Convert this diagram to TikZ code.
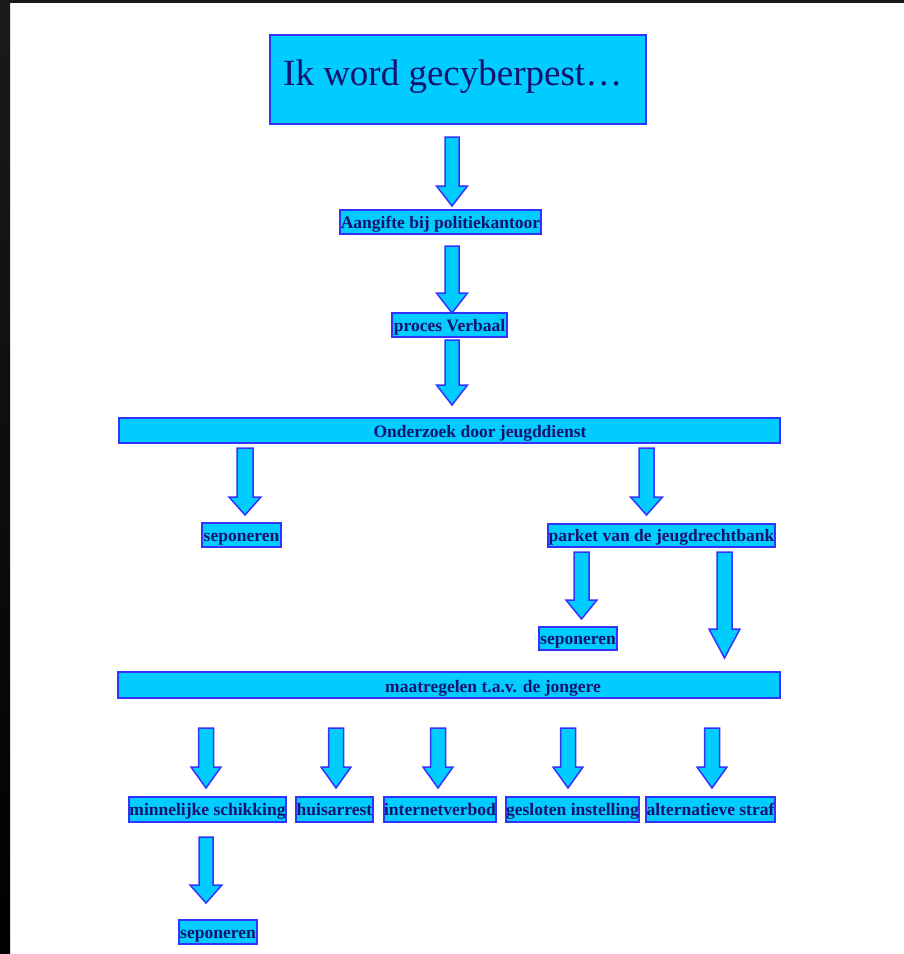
\documentclass[tikz,border=0pt]{standalone}
\usepackage{fontspec}
\setmainfont{Liberation Serif}
\definecolor{boxfill}{RGB}{0,204,255}
\definecolor{boxline}{RGB}{51,51,255}
\definecolor{txt}{RGB}{20,20,110}
\definecolor{frametop}{RGB}{26,26,26}
\newcommand\barrow[6]{% cx, shaft half, head half, top, headstart, tip
  \draw[blockarrow] (#1-#2,#4) -- (#1+#2,#4) -- (#1+#2,#5) -- (#1+#3,#5) -- (#1,#6) -- (#1-#3,#5) -- (#1-#2,#5) -- cycle;}
\begin{document}
\begin{tikzpicture}[x=1pt,y=-1pt,
  box/.style={draw=boxline, fill=boxfill, line width=1.5pt, inner sep=0pt, text=txt,
    text height=13pt, text depth=1pt,
    font=\fontsize{17.5}{17.5}\selectfont\bfseries},
  label/.style={inner sep=0pt, text=txt, text height=13pt, text depth=1pt,
    font=\fontsize{17.5}{17.5}\selectfont\bfseries},
  blockarrow/.style={draw=boxline, fill=boxfill, line width=1.5pt, line join=miter}]
\useasboundingbox (0,0) rectangle (904,954);
\fill[white] (0,0) rectangle (904,954);
\shade[top color=frametop, bottom color=black] (0,0) rectangle (10,954);
\fill[frametop] (0,0) rectangle (904,3);

% title box
\node[box, minimum width=376pt, minimum height=89pt] (title) at (458,79.5) {};
\node[anchor=base west, inner sep=0pt, text=txt, font=\fontsize{37}{37}\selectfont] (titletext) at (283,85) {Ik word gecyberpest…};

\node[box, minimum width=201pt, minimum height=24pt] (aangifte) at (440.5,222) {Aangifte bij politiekantoor};
\node[box, minimum width=115pt, minimum height=24pt] (pv) at (449.5,325) {proces Verbaal};

\node[box, minimum width=661pt, minimum height=25pt] (onderzoek) at (449.5,430.5) {};
\node[label] (onderzoektext) at (480,431) {Onderzoek door jeugddienst};

\node[box, minimum width=79pt, minimum height=24pt] (sep1) at (241.5,535) {seponeren};
\node[box, minimum width=227pt, minimum height=23pt] (parket) at (661.5,535.5) {parket van de jeugdrechtbank};
\node[box, minimum width=78pt, minimum height=23pt] (sep2) at (578,638.5) {seponeren};

\node[box, minimum width=662pt, minimum height=26pt] (maatregelen) at (449,685) {};
\node[label] (maatregelentext) at (493,686) {maatregelen t.a.v. de jongere};

\node[box, minimum width=157pt, minimum height=25pt] (minnelijk) at (207.5,809.5) {minnelijke schikking};
\node[box, minimum width=77pt, minimum height=25pt] (huis) at (334.5,809.5) {huisarrest};
\node[box, minimum width=112pt, minimum height=25pt] (internet) at (440,809.5) {internetverbod};
\node[box, minimum width=133pt, minimum height=25pt] (gesloten) at (572.5,809.5) {gesloten instelling};
\node[box, minimum width=129pt, minimum height=25pt] (alternatief) at (710.5,809.5) {alternatieve straf};

\node[box, minimum width=78pt, minimum height=24pt] (sep3) at (218,932) {seponeren};

% block arrows
\barrow{452}{7}{15.5}{137}{186}{206}
\barrow{452}{7}{15.5}{246}{293}{313}
\barrow{452}{7}{15.5}{340}{385}{405}
\barrow{245}{8}{16}{448}{497}{515}
\barrow{646.5}{7.5}{16}{448}{497}{515}
\barrow{581.5}{7.5}{15.5}{552}{600}{619}
\barrow{724.5}{7.5}{15.5}{552}{629}{658}
\barrow{206}{7.5}{15}{728}{767}{788}
\barrow{336}{7.5}{15}{728}{767}{788}
\barrow{438}{7.5}{15}{728}{767}{788}
\barrow{568}{7.5}{15}{728}{767}{788}
\barrow{712}{7.5}{15}{728}{767}{788}
\barrow{206}{7}{16}{837}{885}{903}
\end{tikzpicture}
\end{document}
